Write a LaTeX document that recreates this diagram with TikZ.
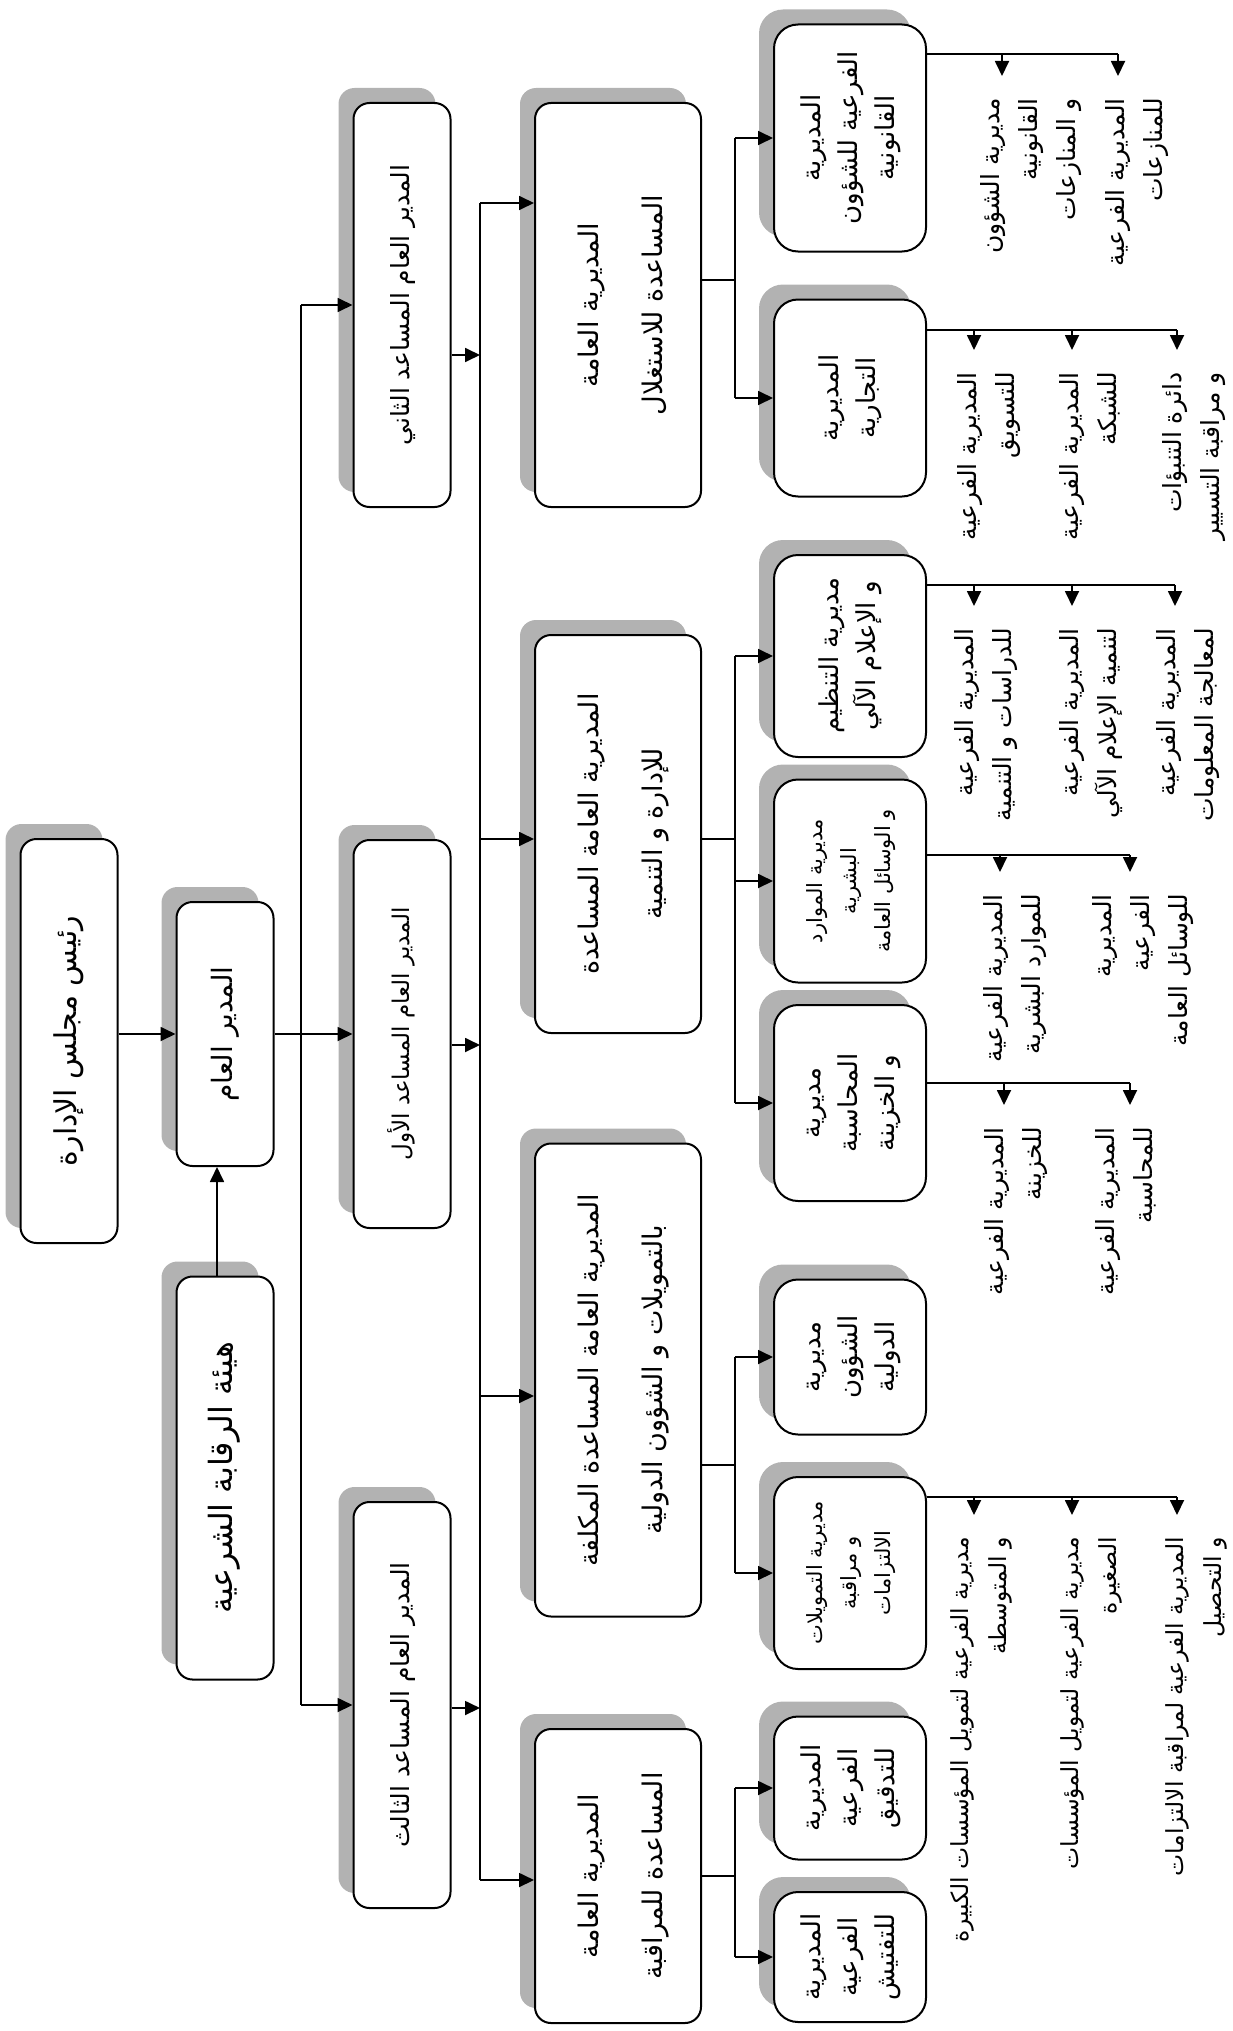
\documentclass[tikz,border=0pt]{standalone}
\usepackage{fontspec}
\usepackage{graphicx}
\usepackage{tikz}
\usetikzlibrary{arrows.meta, shadows, calc}

\newfontfamily\arabicfont[Script=Arabic]{DejaVu Sans}
\TeXXeTstate=1

\newcommand{\ar}[1]{\beginR #1\endR}
\newcommand{\vtxt}[2][c]{\rotatebox{90}{\begin{tabular}{@{}#1@{}}#2\end{tabular}}}
\newcommand{\fs}[2]{\arabicfont\fontsize{#1}{#2}\selectfont}

\begin{document}
\begin{tikzpicture}[
    x=1pt, y=-1pt,
    box/.style={rectangle, draw, line width=2pt, rounded corners=16pt, fill=white, inner sep=0pt,
        font=\fs{25}{38},
        drop shadow={shadow xshift=-15pt, shadow yshift=15pt, fill=black!30, opacity=1}},
    chief/.style={box, minimum width=97pt},
    genbox/.style={box, minimum width=166pt, font=\fs{27}{64}},
    subbox/.style={box, minimum width=152pt, rounded corners=24pt, font=\fs{26}{37}},
    lbl/.style={inner sep=0pt, anchor=north west, font=\fs{25}{38}},
    link/.style={line width=1.8pt},
    arrow/.style={link, -{Triangle[length=15pt, width=14pt]}}
]
\useasboundingbox (0,0) rectangle (1232,2031);

% Board and general manager
\node[chief, minimum height=404pt, font=\fs{30}{38}] (rais) at (69,1041) {\vtxt{\ar{رئيس مجلس الإدارة}}};
\node[chief, minimum height=264pt, font=\fs{28}{38}] (mudir) at (225,1034) {\vtxt{\ar{المدير العام}}};
\node[chief, minimum height=403pt, font=\fs{32}{38}] (hayaa) at (225,1478) {\vtxt{\ar{هيئة الرقابة الشرعية}}};

% Assistant general managers
\node[chief, minimum height=404pt] (thani) at (402,305) {\vtxt{\ar{المدير العام المساعد الثاني}}};
\node[chief, minimum height=388pt, font=\fs{23}{38}] (awwal) at (402,1034) {\vtxt{\ar{المدير العام المساعد الأول}}};
\node[chief, minimum height=406pt] (thalith) at (402,1705) {\vtxt{\ar{المدير العام المساعد الثالث}}};

% General directorates
\node[genbox, minimum height=404pt] (istighlal) at (618,305) {\vtxt{\ar{المديرية العامة}\\\ar{المساعدة للاستغلال}}};
\node[genbox, minimum height=398pt] (idara) at (618,834) {\vtxt{\ar{المديرية العامة المساعدة}\\\ar{للإدارة و التنمية}}};
\node[genbox, minimum height=473pt] (mukallafa) at (618,1380) {\vtxt{\ar{المديرية العامة المساعدة المكلفة}\\\ar{بالتمويلات و الشؤون الدولية}}};
\node[genbox, minimum height=294pt] (muraqaba) at (618,1876) {\vtxt{\ar{المديرية العامة}\\\ar{المساعدة للمراقبة}}};

% Directorates
\node[subbox, minimum height=227pt] (qanun) at (850,138) {\vtxt{\ar{المديرية}\\\ar{الفرعية للشؤون}\\\ar{القانونية}}};
\node[subbox, minimum height=197pt] (tijari) at (850,398) {\vtxt{\ar{المديرية}\\\ar{التجارية}}};
\node[subbox, minimum height=202pt] (tanzim) at (850,656) {\vtxt{\ar{مديرية التنظيم}\\\ar{و الإعلام الآلي}}};
\node[subbox, minimum height=203pt, font=\fs{21}{34}] (mawarid) at (850,881) {\vtxt{\ar{مديرية الموارد}\\\ar{البشرية}\\\ar{و الوسائل العامة}}};
\node[subbox, minimum height=196pt] (muhasaba) at (850,1103) {\vtxt{\ar{مديرية}\\\ar{المحاسبة}\\\ar{و الخزينة}}};
\node[subbox, minimum height=155pt] (duwaliya) at (850,1357) {\vtxt{\ar{مديرية}\\\ar{الشؤون}\\\ar{الدولية}}};
\node[subbox, minimum height=192pt, font=\fs{21}{34}] (tamwil) at (850,1573) {\vtxt{\ar{مديرية التمويلات}\\\ar{و مراقبة}\\\ar{الالتزامات}}};
\node[subbox, minimum height=143pt] (tadqiq) at (850,1788) {\vtxt{\ar{المديرية}\\\ar{الفرعية}\\\ar{للتدقيق}}};
\node[subbox, minimum height=130pt] (taftish) at (850,1957) {\vtxt{\ar{المديرية}\\\ar{الفرعية}\\\ar{للتفتيش}}};

% Arrows, first levels
\draw[arrow] (rais.east |- mudir) -- (mudir.west);
\draw[arrow] ([xshift=-8pt]hayaa.north) -- ([xshift=-8pt]mudir.south);
\coordinate (bus1) at (301,0);
\draw[link] (mudir.east) -- (bus1 |- mudir);
\draw[link] (bus1 |- thani) -- (bus1 |- thalith);
\foreach \n in {thani, awwal, thalith}
  \draw[arrow] (bus1 |- \n) -- (\n.west);

\coordinate (bus2) at (480,0);
\coordinate (o2a) at ($(thani.east)+(0,50)$);
\coordinate (o2b) at ($(awwal.east)+(0,11)$);
\coordinate (o2c) at ($(thalith.east)+(0,3)$);
\foreach \c in {o2a, o2b, o2c}
  \draw[arrow] (\c) -- (\c -| bus2);
\coordinate (i3a) at ($(istighlal.west)+(0,-102)$);
\coordinate (i3b) at ($(idara.west)+(0,5)$);
\coordinate (i3c) at ($(mukallafa.west)+(0,16)$);
\coordinate (i3d) at ($(muraqaba.west)+(0,4)$);
\draw[link] (i3a -| bus2) -- (i3d -| bus2);
\foreach \c in {i3a, i3b, i3c, i3d}
  \draw[arrow] (\c -| bus2) -- (\c);

\coordinate (bus3) at (735,0);
\coordinate (o3a) at ($(istighlal.east)+(0,-25)$);
\coordinate (o3b) at ($(idara.east)+(0,5)$);
\coordinate (o3c) at ($(mukallafa.east)+(0,85)$);
\coordinate (o3d) at (muraqaba.east);
\foreach \c in {o3a, o3b, o3c, o3d}
  \draw[link] (\c) -- (\c -| bus3);
\draw[link] (bus3 |- qanun) -- (bus3 |- tijari);
\draw[link] (bus3 |- tanzim) -- (bus3 |- muhasaba);
\draw[link] (bus3 |- duwaliya) -- (bus3 |- tamwil);
\draw[link] (bus3 |- tadqiq) -- (bus3 |- taftish);
\foreach \n in {qanun, tijari, tanzim, mawarid, muhasaba, duwaliya, tamwil, tadqiq, taftish}
  \draw[arrow] (bus3 |- \n) -- (\n.west);

% Sub-directorates
\coordinate (qa1) at (1002,54);
\coordinate (qa2) at (1118,54);
\draw[link] (qanun.east |- qa1) -- (qa2);
\node[lbl] (q1) at ($(qa1)+(-29,44)$) {\vtxt[r]{\ar{مديرية الشؤون}\\\ar{القانونية}\\\ar{و المنازعات}}};
\node[lbl] (q2) at ($(qa2)+(-20,44)$) {\vtxt[r]{\ar{المديرية الفرعية}\\\ar{للمنازعات}}};

\coordinate (ta1) at (974,330);
\coordinate (ta2) at (1072,330);
\coordinate (ta3) at (1177,330);
\draw[link] (tijari.east |- ta1) -- (ta3);
\node[lbl] (t1) at ($(ta1)+(-24,42)$) {\vtxt[r]{\ar{المديرية الفرعية}\\\ar{للتسويق}}};
\node[lbl] (t2) at ($(ta2)+(-20,42)$) {\vtxt[r]{\ar{المديرية الفرعية}\\\ar{للشبكة}}};
\node[lbl] (t3) at ($(ta3)+(-22,42)$) {\vtxt[r]{\ar{دائرة التنبؤات}\\\ar{و مراقبة التسيير}}};

\coordinate (na1) at (974,585);
\coordinate (na2) at (1072,585);
\coordinate (na3) at (1175,585);
\draw[link] (tanzim.east |- na1) -- (na3);
\node[lbl] (n1) at ($(na1)+(-27,43)$) {\vtxt[r]{\ar{المديرية الفرعية}\\\ar{للدراسات و التنمية}}};
\node[lbl] (n2) at ($(na2)+(-20,43)$) {\vtxt[r]{\ar{المديرية الفرعية}\\\ar{لتنمية الإعلام الآلي}}};
\node[lbl] (n3) at ($(na3)+(-26,43)$) {\vtxt[r]{\ar{المديرية الفرعية}\\\ar{لمعالجة المعلومات}}};

\coordinate (ma1) at (1000,855);
\coordinate (ma2) at (1130,855);
\draw[link] (mawarid.east |- ma1) -- (ma2);
\node[lbl] (m1) at ($(ma1)+(-24,39)$) {\vtxt[r]{\ar{المديرية الفرعية}\\\ar{للموارد البشرية}}};
\node[lbl] (m2) at ($(ma2)+(-45,39)$) {\vtxt[r]{\ar{المديرية}\\\ar{الفرعية}\\\ar{للوسائل العامة}}};

\coordinate (ha1) at (1004,1083);
\coordinate (ha2) at (1130,1083);
\draw[link] (muhasaba.east |- ha1) -- (ha2);
\node[lbl] (h1) at ($(ha1)+(-27,44)$) {\vtxt[r]{\ar{المديرية الفرعية}\\\ar{للخزينة}}};
\node[lbl] (h2) at ($(ha2)+(-42,44)$) {\vtxt[r]{\ar{المديرية الفرعية}\\\ar{للمحاسبة}}};

\coordinate (wa1) at (974,1497);
\coordinate (wa2) at (1072,1497);
\coordinate (wa3) at (1177,1497);
\draw[link] (tamwil.east |- wa1) -- (wa3);
\node[lbl, font=\fs{23.5}{38}] (w1) at ($(wa1)+(-32,40)$) {\vtxt[r]{\ar{مديرية الفرعية لتمويل المؤسسات الكبيرة}\\\ar{و المتوسطة}}};
\node[lbl, font=\fs{23.5}{38}] (w2) at ($(wa2)+(-20,40)$) {\vtxt[r]{\ar{مديرية الفرعية لتمويل المؤسسات}\\\ar{الصغيرة}}};
\node[lbl, font=\fs{23.5}{38}] (w3) at ($(wa3)+(-20,40)$) {\vtxt[r]{\ar{المديرية الفرعية لمراقبة الالتزامات}\\\ar{و التحصيل}}};

\foreach \a/\l in {qa1/q1, qa2/q2, ta1/t1, ta2/t2, ta3/t3, na1/n1, na2/n2, na3/n3,
                   ma1/m1, ma2/m2, ha1/h1, ha2/h2, wa1/w1, wa2/w2, wa3/w3}
  \draw[arrow] (\a) -- ($(\a |- \l.north)+(0,-22)$);

\end{tikzpicture}
\end{document}
